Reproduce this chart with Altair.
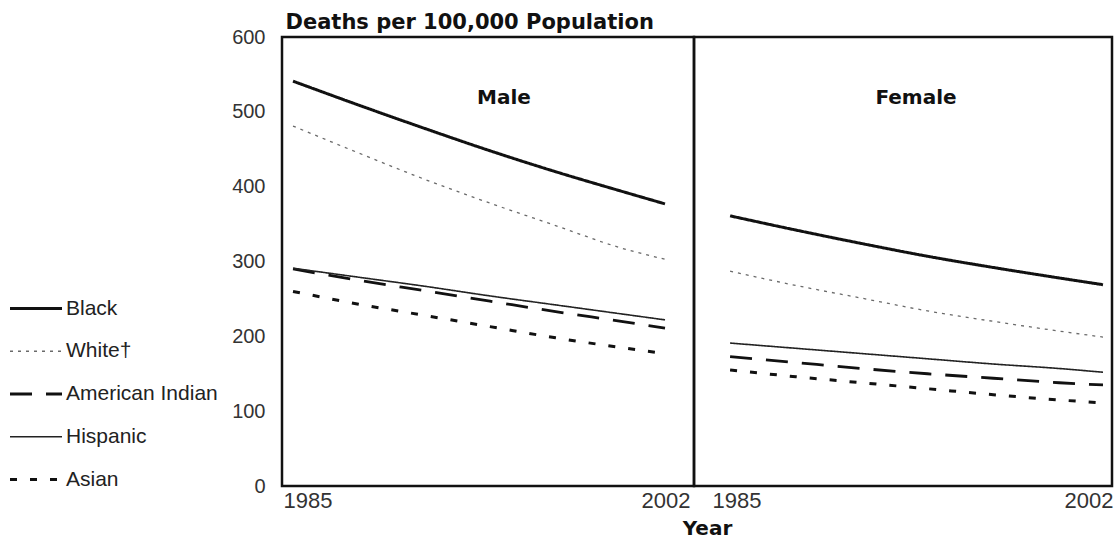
import altair as alt
import pandas as pd

# ---------------- data ----------------
YEARS = [1985, 1988, 1991, 1994, 1997, 2000, 2002]
SERIES = ["Black", "White", "American Indian", "Hispanic", "Asian"]
LEGEND_LABELS = ["Black", "White\u2020", "American Indian", "Hispanic", "Asian"]

MALE_BLACK = [541, 509, 478, 448, 420, 394, 377]
MALE_WHITE = [481, 445, 410, 378, 348, 318, 303]
MALE_AMIND = [290, 275, 261, 247, 233, 220, 211]
MALE_HISP = [291, 279, 267, 254, 242, 230, 222]
MALE_ASIAN = [260, 243, 228, 213, 198, 185, 177]

FEMALE_BLACK = [361, 342, 324, 307, 292, 278, 269]
FEMALE_WHITE = [287, 268, 251, 234, 220, 207, 199]
FEMALE_AMIND = [173, 165, 157, 150, 144, 138, 135]
FEMALE_HISP = [191, 184, 177, 170, 163, 157, 152]
FEMALE_ASIAN = [155, 146, 138, 130, 122, 115, 111]

Y_TICKS = [0, 100, 200, 300, 400, 500, 600]
X_TICKS = [1985, 2002]
PANELS = ["Male", "Female"]


def build(values):
    rows = []
    for s, vals in zip(SERIES, values):
        for y, v in zip(YEARS, vals):
            rows.append({"series": s, "year": y, "rate": v})
    return pd.DataFrame(rows)


male_df = build([MALE_BLACK, MALE_WHITE, MALE_AMIND, MALE_HISP, MALE_ASIAN])
female_df = build([FEMALE_BLACK, FEMALE_WHITE, FEMALE_AMIND, FEMALE_HISP, FEMALE_ASIAN])
legend_df = pd.DataFrame({"series": SERIES, "label": LEGEND_LABELS})

STYLE = {
    "Black": dict(color="#111111", strokeWidth=3.0, strokeDash=[1, 0]),
    "White": dict(color="#6a6a6a", strokeWidth=1.3, strokeDash=[3, 5]),
    "American Indian": dict(color="#111111", strokeWidth=2.8, strokeDash=[22, 14]),
    "Hispanic": dict(color="#222222", strokeWidth=1.6, strokeDash=[1, 0]),
    "Asian": dict(color="#111111", strokeWidth=3.0, strokeDash=[7, 13]),
}

FONT = "Liberation Sans"
BOLD_FONT = "DejaVu Sans"
H = 449
W_MALE = 412
W_FEMALE = 418
W_LEGEND = 282

y_scale = alt.Scale(domain=[0, 600], nice=False, zero=True)


def panel(df, name, width, x_domain, off_first, off_last, show_y, x_title):
    x_axis_kwargs = dict(
        values=X_TICKS,
        format="d",
        grid=False,
        ticks=False,
        domain=False,
        labelFont=FONT,
        labelFontSize=22,
        labelColor="#333333",
        labelPadding=4,
        labelBaseline="top",
        labelAlign={"condition": {"test": "datum.value == 1985", "value": "left"}, "value": "right"},
        labelOffset={"condition": {"test": "datum.value == 1985", "value": off_first}, "value": off_last},
    )
    if x_title:
        x_axis_kwargs.update(
            title=x_title,
            titleFont=BOLD_FONT,
            titleFontSize=20,
            titleFontWeight="bold",
            titleColor="#111111",
            titleX=13,
            titleY=48,
            titleAlign="center",
            titleBaseline="alphabetic",
        )
    else:
        x_axis_kwargs.update(title=None)

    if show_y:
        y_axis = alt.Axis(
            values=Y_TICKS,
            grid=False,
            ticks=False,
            domain=False,
            labelFont=FONT,
            labelFontSize=20,
            labelColor="#333333",
            labelPadding=17,
            title="Deaths per 100,000 Population",
            titleFont=BOLD_FONT,
            titleFontSize=21,
            titleFontWeight="bold",
            titleColor="#111111",
            titleAngle=0,
            titleX=3,
            titleY=-9,
            titleAlign="left",
            titleBaseline="alphabetic",
        )
    else:
        y_axis = None

    x_enc = alt.X("year:Q", scale=alt.Scale(domain=x_domain, nice=False, zero=False),
                  axis=alt.Axis(**x_axis_kwargs))
    y_enc = alt.Y("rate:Q", scale=y_scale, axis=y_axis)

    layers = []
    for s in SERIES:
        st = STYLE[s]
        layers.append(
            alt.Chart(df)
            .transform_filter(alt.datum.series == s)
            .mark_line(interpolate="monotone", strokeCap="butt", **st)
            .encode(x=x_enc, y=y_enc)
        )
    label = (
        alt.Chart(pd.DataFrame({"panel": [name]}))
        .mark_text(font=BOLD_FONT, fontSize=20, fontWeight="bold", color="#111111",
                   align="center", baseline="middle")
        .encode(text="panel:N", x=alt.value(222), y=alt.value(61))
    )
    return alt.layer(*layers, label).properties(width=width, height=H)


male = panel(male_df, PANELS[0], W_MALE, [1984.497, 2003.325], -10, 25, True, None)
female = panel(female_df, PANELS[1], W_FEMALE, [1983.355, 2002.41], -18, 10, False, "Year")

leg_y = alt.Y("series:N", sort=SERIES, axis=None,
              scale=alt.Scale(type="point", domain=SERIES, range=[271.5, 442.5], padding=0))
leg_layers = []
for s in SERIES:
    st = STYLE[s]
    leg_layers.append(
        alt.Chart(legend_df)
        .transform_filter(alt.datum.series == s)
        .mark_rule(strokeCap="butt", **st)
        .encode(x=alt.value(10), x2=alt.value(62), y=leg_y)
    )
leg_text = (
    alt.Chart(legend_df)
    .mark_text(font=FONT, fontSize=21, color="#222222", align="left", baseline="middle")
    .encode(x=alt.value(66), y=leg_y, text="label:N")
)
legend = alt.layer(*leg_layers, leg_text).properties(
    width=W_LEGEND, height=H, view=alt.ViewBackground(stroke="transparent", strokeWidth=0)
)

chart = (
    alt.hconcat(legend, male, female, spacing=0, bounds="flush")
    .properties(padding={"left": 0, "top": 9, "right": 0, "bottom": 0}, background="white")
    .configure_view(stroke="#111111", strokeWidth=2.5)
    .configure_axis(grid=False)
)

chart.save("out.html", embed_options={"renderer": "svg", "actions": False})
